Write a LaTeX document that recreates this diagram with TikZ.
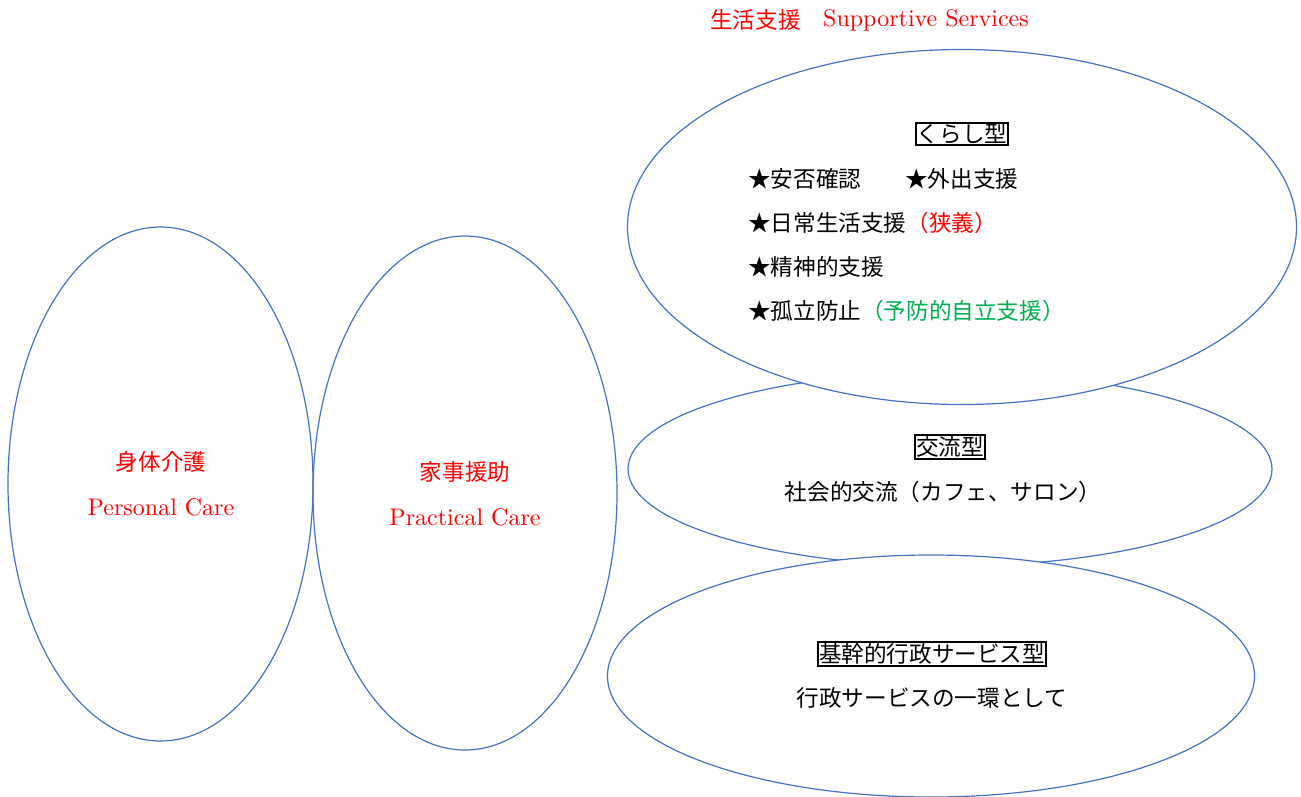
\documentclass[tikz,border=0pt]{standalone}
\usepackage{fontspec}
\newfontfamily\cjk{Noto Sans CJK JP}
\newfontfamily\latf{lmroman10-regular}[Extension=.otf]
\usetikzlibrary{shapes.geometric}
\definecolor{oblue}{HTML}{4472C4}
\definecolor{ored}{HTML}{FF0000}
\definecolor{ogreen}{HTML}{00B050}
\tikzset{
  oval/.style={draw=oblue, line width=1.2pt, ellipse, inner sep=0pt},
  jp/.style={font=\cjk\fontsize{22.6}{26}\selectfont, inner sep=0pt},
  lat/.style={font=\latf\fontsize{24}{28}\selectfont, inner sep=0pt},
  tagbox/.style={draw=black, line width=2pt, inner sep=1.2pt, font=\cjk\fontsize{22.6}{26}\selectfont}
}
\begin{document}
\begin{tikzpicture}[x=1pt,y=-1pt]
\useasboundingbox (0,0) rectangle (1301,796);
% ellipses
\node[oval, minimum width=305pt, minimum height=514pt] (pc) at (160.5,484) {};
\node[oval, minimum width=304pt, minimum height=514pt] (prc) at (465,493) {};
\node[oval, minimum width=644pt, minimum height=194pt] (mid) at (950,469) {};
\node[oval, fill=white, minimum width=669pt, minimum height=355pt] (top) at (962,227) {};
\node[oval, fill=white, minimum width=647pt, minimum height=242pt] (bot) at (931,676) {};
% title
\node[jp, text=ored, anchor=west] (t1) at (710,20) {生活支援};
\node[lat, text=ored, anchor=west] (t2) at (823,20) {Supportive Services};
% left ellipses
\node[jp, text=ored] (pc1) at (161,462) {身体介護};
\node[lat, text=ored] (pc2) at (161,507) {Personal Care};
\node[jp, text=ored] (pr1) at (465,472) {家事援助};
\node[lat, text=ored] (pr2) at (465,517) {Practical Care};
% top ellipse
\node[tagbox] (k0) at (962,134) {くらし型};
\node[jp, anchor=west] (k1) at (748,179) {★安否確認};
\node[jp, anchor=west] (k1b) at (905,179) {★外出支援};
\node[jp, anchor=west] (k2) at (748,223) {★日常生活支援\textcolor{ored}{（狭義）}};
\node[jp, anchor=west] (k3) at (748,267) {★精神的支援};
\node[jp, anchor=west] (k4) at (748,311) {★孤立防止\textcolor{ogreen}{（予防的自立支援）}};
% middle ellipse
\node[tagbox] (m0) at (950,447) {交流型};
\node[jp] (m1) at (943,492) {社会的交流（カフェ、サロン）};
% bottom ellipse
\node[tagbox] (b0) at (932,654) {基幹的行政サービス型};
\node[jp] (b1) at (932,698) {行政サービスの一環として};
\end{tikzpicture}
\end{document}
